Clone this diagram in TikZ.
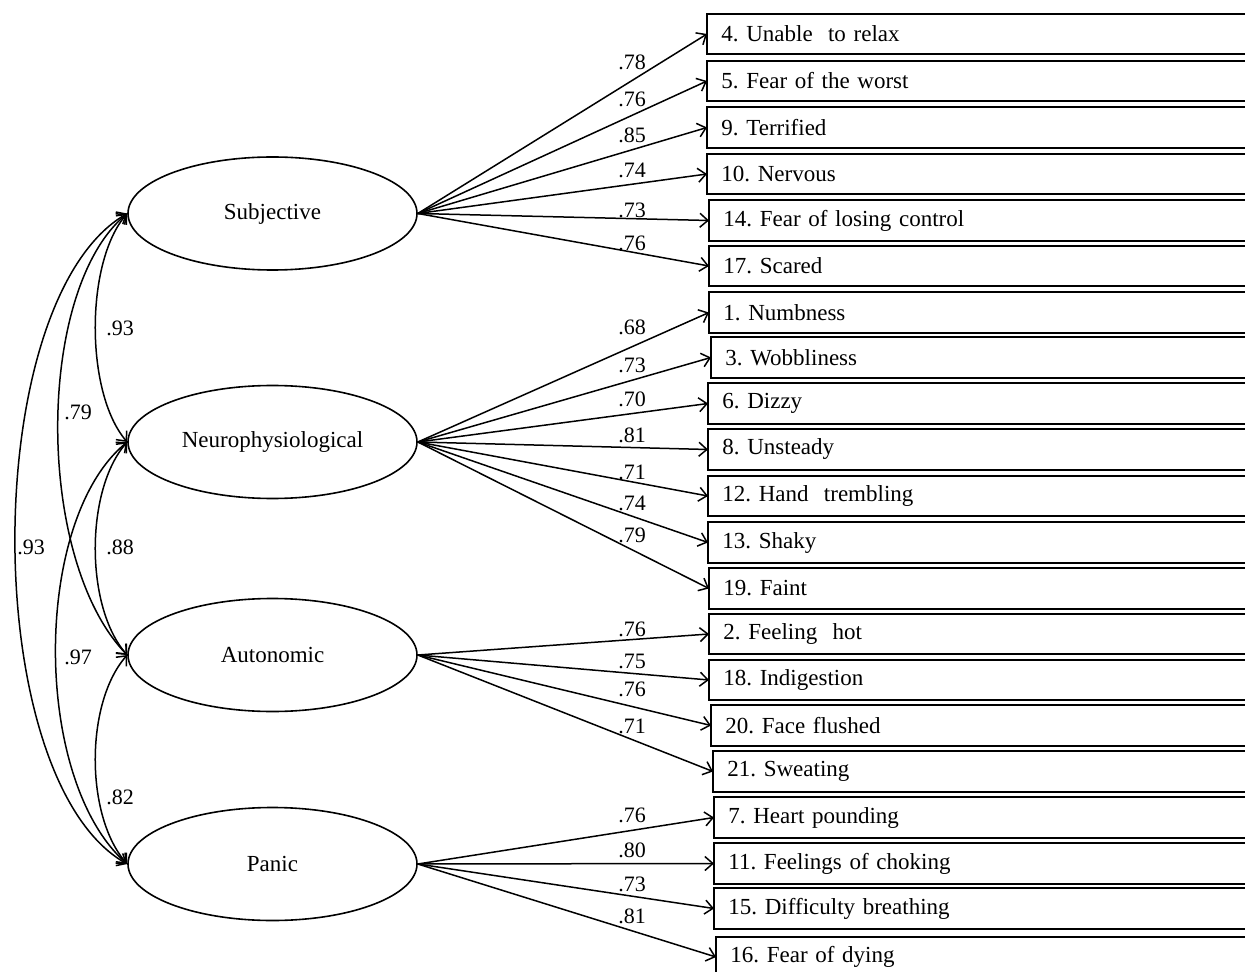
\documentclass[tikz,border=0pt]{standalone}
\usepackage{fontspec}
\setmainfont{Liberation Serif}
\usetikzlibrary{shapes.geometric,arrows.meta}
\frenchspacing
\tikzset{
  lat/.style={draw, ellipse, line width=0.8pt, minimum width=144.5pt, minimum height=56.5pt, inner sep=0pt, font=\fontsize{11.5}{13}\selectfont},
  ind/.style={rectangle, anchor=west, minimum height=20pt, inner xsep=7pt, inner ysep=0pt, text width=240pt, align=left, font=\fontsize{11.5}{13}\selectfont},
  edge/.style={line width=1pt, line join=miter, line cap=butt},
  arr/.style={-{Straight Barb[length=4pt,width=7pt]}, line width=0.75pt},
  cov/.style={{Straight Barb[length=4pt,width=7pt]}-{Straight Barb[length=4pt,width=7pt]}, line width=0.75pt},
  coef/.style={inner sep=0pt, font=\fontsize{11}{13}\selectfont}
}
\begin{document}
\begin{tikzpicture}[x=0.5pt,y=-0.5pt]
\useasboundingbox (0,0) rectangle (1245,972);
\fill[white] (0,0) rectangle (1245,972);
\coordinate (R) at (1245,0);

% latent factors
\node[lat] (S) at (272.5,213.5) {Subjective};
\node[lat] (N) at (272.5,442) {Neurophysiological};
\node[lat] (A) at (272.5,655) {Autonomic};
\node[lat] (P) at (272.5,864) {Panic};

% indicators
\node[ind] (b4)  at (707,34)    {4. Unable~ to relax};
\node[ind] (b5)  at (707,81)    {5. Fear of the worst};
\node[ind] (b9)  at (707,127.5) {9. Terrified};
\node[ind] (b10) at (707,174)   {10. Nervous};
\node[ind] (b14) at (709,220.5) {14. Fear of losing control};
\node[ind] (b17) at (709,266)   {17. Scared};
\node[ind] (b1)  at (709,312.5) {1. Numbness};
\node[ind] (b3)  at (711,357.5) {3. Wobbliness};
\node[ind] (b6)  at (708,403.5) {6. Dizzy};
\node[ind] (b8)  at (708,449.5) {8. Unsteady};
\node[ind] (b12) at (708,496)   {12. Hand~ trembling};
\node[ind] (b13) at (708,542.5) {13. Shaky};
\node[ind] (b19) at (709,588.5) {19. Faint};
\node[ind] (b2)  at (709,634)   {2. Feeling~ hot};
\node[ind] (b18) at (709,680)   {18. Indigestion};
\node[ind] (b20) at (711,725.5) {20. Face flushed};
\node[ind] (b21) at (713,771.5) {21. Sweating};
\node[ind] (b7)  at (714,817.5) {7. Heart pounding};
\node[ind] (b11) at (714,863.5) {11. Feelings of choking};
\node[ind] (b15) at (714,908.5) {15. Difficulty breathing};
\node[ind] (b16) at (716,957)   {16. Fear of dying};

% box outlines (open on the right, where they meet the page edge)
\foreach \b in {b4,b5,b9,b10,b14,b17,b1,b3,b6,b8,b12,b13,b19,b2,b18,b20,b21,b7,b11,b15,b16}
  \draw[edge] (\b.north west -| R) -- (\b.north west) -- (\b.south west) -- (\b.south west -| R);

% loadings
\foreach \b in {b4,b5,b9,b10,b14,b17} \draw[arr] (S.east) -- (\b.west);
\foreach \b in {b1,b3,b6,b8,b12,b13,b19} \draw[arr] (N.east) -- (\b.west);
\foreach \b in {b2,b18,b20,b21} \draw[arr] (A.east) -- (\b.west);
\foreach \b in {b7,b11,b15,b16} \draw[arr] (P.east) -- (\b.west);

\node[coef] (c4)  at (632,62)  {.78};
\node[coef] (c5)  at (632,99)  {.76};
\node[coef] (c9)  at (632,135) {.85};
\node[coef] (c10) at (632,170) {.74};
\node[coef] (c14) at (632,210) {.73};
\node[coef] (c17) at (632,243) {.76};
\node[coef] (c1)  at (632,327) {.68};
\node[coef] (c3)  at (632,365) {.73};
\node[coef] (c6)  at (632,399) {.70};
\node[coef] (c8)  at (632,435) {.81};
\node[coef] (c12) at (632,472) {.71};
\node[coef] (c13) at (632,503) {.74};
\node[coef] (c19) at (632,535) {.79};
\node[coef] (c2)  at (632,629) {.76};
\node[coef] (c18) at (632,661) {.75};
\node[coef] (c20) at (632,689) {.76};
\node[coef] (c21) at (632,726) {.71};
\node[coef] (c7)  at (632,815) {.76};
\node[coef] (c11) at (632,850) {.80};
\node[coef] (c15) at (632,884) {.73};
\node[coef] (c16) at (632,916) {.81};

% covariances
\draw[cov] (S.west) .. controls (85,262) and (85,393) .. (N.west);
\draw[cov] (N.west) .. controls (85,490) and (85,607) .. (A.west);
\draw[cov] (A.west) .. controls (85,703) and (85,816) .. (P.west);
\draw[cov] (S.west) .. controls (35,290) and (35,560) .. (A.west);
\draw[cov] (N.west) .. controls (32,520) and (32,780) .. (P.west);
\draw[cov] (S.west) .. controls (-22,300) and (-22,780) .. (P.west);

\node[coef] (r1) at (120,328) {.93};
\node[coef] (r2) at (78,412)  {.79};
\node[coef] (r3) at (31,547)  {.93};
\node[coef] (r4) at (120,547) {.88};
\node[coef] (r5) at (78,657)  {.97};
\node[coef] (r6) at (120,797) {.82};
\end{tikzpicture}
\end{document}
